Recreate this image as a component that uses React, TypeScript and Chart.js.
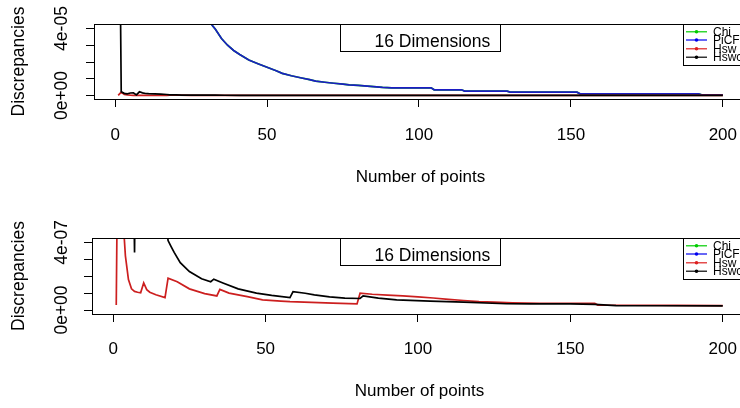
import React, { useEffect, useRef } from "react";
import { Chart, registerables } from "chart.js";

Chart.register(...registerables);

// ---------- data ----------
const SERIES_NAMES = ["Chi", "PiCF", "Hsw", "Hswc"];
const SERIES_COLORS = ["#00c800", "#1c1cc4", "#cc1f1f", "#000000"];
const LEGEND_COLORS = ["#00cd00", "#0000ee", "#dd2020", "#000000"];

const X_TICKS = [0, 50, 100, 150, 200];
const TOP_Y_TICKS = [0, 1e-5, 2e-5, 3e-5, 4e-5];
const TOP_Y_LABELS = ["0e+00", "", "", "", "4e-05"];
const BOTTOM_Y_TICKS = [0, 1e-7, 2e-7, 3e-7, 4e-7];
const BOTTOM_Y_LABELS = ["0e+00", "", "", "", "4e-07"];
const PANEL_TITLE = "16 Dimensions";
const X_TITLE = "Number of points";
const Y_TITLE = "Discrepancies";

// PiCF (blue)
const PICF_N = [27, 29, 31, 32, 33, 35, 37, 39, 41, 44, 47, 50, 53, 55, 58, 61, 64, 66, 69, 72, 75, 77, 80, 83, 86, 88, 91, 93, 104, 105, 114, 115, 129, 130, 152, 153, 192, 193, 200];
const PICF_V = [5.6e-5, 4.95e-5, 4.45e-5, 4.18e-5, 3.95e-5, 3.4e-5, 3.0e-5, 2.69e-5, 2.45e-5, 2.12e-5, 1.9e-5, 1.69e-5, 1.48e-5, 1.32e-5, 1.18e-5, 1.06e-5, 0.95e-5, 0.86e-5, 0.79e-5, 0.73e-5, 0.68e-5, 0.64e-5, 0.6e-5, 0.56e-5, 0.52e-5, 0.49e-5, 0.46e-5, 0.46e-5, 0.46e-5, 0.34e-5, 0.34e-5, 0.26e-5, 0.26e-5, 0.2e-5, 0.2e-5, 0.1e-5, 0.1e-5, 0.04e-5, 0.04e-5];

// Chi (green) - lies under PiCF in the picture
const CHI_N = [27, 29, 31, 32, 33, 35, 37, 39, 41, 44, 47, 50, 53, 55, 58, 61, 64, 66, 69, 72, 75, 77, 80, 83, 86, 88, 91, 93, 104, 105, 114, 115, 129, 130, 152, 153, 192, 193, 200];
const CHI_V = [5.6e-5, 4.95e-5, 4.45e-5, 4.18e-5, 3.95e-5, 3.4e-5, 3.0e-5, 2.69e-5, 2.45e-5, 2.12e-5, 1.9e-5, 1.69e-5, 1.48e-5, 1.32e-5, 1.18e-5, 1.06e-5, 0.95e-5, 0.86e-5, 0.79e-5, 0.73e-5, 0.68e-5, 0.64e-5, 0.6e-5, 0.56e-5, 0.52e-5, 0.49e-5, 0.46e-5, 0.46e-5, 0.46e-5, 0.34e-5, 0.34e-5, 0.26e-5, 0.26e-5, 0.2e-5, 0.2e-5, 0.1e-5, 0.1e-5, 0.04e-5, 0.04e-5];

// Hsw (red)
const HSW_N = [1, 2, 3, 4, 5, 6, 7, 8, 9, 10, 11, 12, 14, 17, 18, 21, 25, 30, 34, 35, 38, 44, 49, 55, 58, 65, 72, 80, 81, 85, 90, 95, 100, 105, 110, 115, 120, 125, 131, 140, 158, 159, 170, 185, 200];
const HSW_V = [3e-8, 2.0e-6, 6.0e-7, 3.2e-7, 1.8e-7, 1.25e-7, 1.1e-7, 1.05e-7, 1.02e-7, 1.6e-7, 1.2e-7, 1.05e-7, 9e-8, 7.3e-8, 1.88e-7, 1.67e-7, 1.25e-7, 9.7e-8, 8.3e-8, 1.22e-7, 1.0e-7, 7.9e-8, 6.0e-8, 5.3e-8, 4.9e-8, 4.5e-8, 4.1e-8, 3.6e-8, 9.9e-8, 9.3e-8, 8.8e-8, 8.3e-8, 7.8e-8, 7.1e-8, 6.3e-8, 5.6e-8, 4.9e-8, 4.6e-8, 4.3e-8, 4.0e-8, 4.0e-8, 2.9e-8, 2.8e-8, 2.7e-8, 2.6e-8];

// Hswc (black)
const HSWC_N = [1, 2, 3, 4, 5, 6, 7, 8, 9, 10, 11, 13, 15, 17, 18, 19, 20, 22, 25, 29, 32, 33, 36, 41, 47, 52, 58, 59, 63, 66, 71, 76, 81, 82, 87, 93, 104, 115, 129, 137, 150, 158, 165, 180, 200];
const HSWC_V = [2e-4, 2.2e-6, 1.3e-6, 1.0e-6, 1.5e-6, 1.6e-6, 3.4e-7, 2.2e-6, 1.6e-6, 1.2e-6, 1.1e-6, 1.0e-6, 8e-7, 6e-7, 4.1e-7, 3.75e-7, 3.4e-7, 2.8e-7, 2.27e-7, 1.85e-7, 1.67e-7, 1.82e-7, 1.6e-7, 1.25e-7, 1.0e-7, 8.6e-8, 7.3e-8, 1.08e-7, 9.9e-8, 8.9e-8, 7.8e-8, 7.0e-8, 6.8e-8, 8.3e-8, 7.0e-8, 6.0e-8, 5.3e-8, 4.7e-8, 3.7e-8, 3.6e-8, 3.6e-8, 3.3e-8, 2.6e-8, 2.5e-8, 2.4e-8];

const SERIES_N = [CHI_N, PICF_N, HSW_N, HSWC_N];
const SERIES_V = [CHI_V, PICF_V, HSW_V, HSWC_V];

// ---------- styling ----------
const FONT = "'Liberation Sans', Arial, Helvetica, sans-serif";
const CANVAS_W = 760;

type PanelSpec = {
  height: number;
  areaBottom: number;
  yMin: number;
  yMax: number;
  yTicks: number[];
  yLabels: string[];
  leftWidth: number;
  labelPad: number;
  titlePad: number;
};

const TOP_PANEL: PanelSpec = {
  height: 214,
  areaBottom: 99,
  yMin: -0.209e-5,
  yMax: 4.269e-5,
  yTicks: TOP_Y_TICKS,
  yLabels: TOP_Y_LABELS,
  leftWidth: 94,
  labelPad: 18,
  titlePad: 26,
};

const BOTTOM_PANEL: PanelSpec = {
  height: 194,
  areaBottom: 100,
  yMin: -0.236e-7,
  yMax: 4.254e-7,
  yTicks: BOTTOM_Y_TICKS,
  yLabels: BOTTOM_Y_LABELS,
  leftWidth: 92,
  labelPad: 17,
  titlePad: 6,
};

const decorPlugin = {
  id: "panelDecor",
  afterDraw(chart: any, _args: any, opts: any) {
    const { ctx, chartArea: a } = chart;
    const ys = chart.scales.y;
    ctx.save();
    ctx.strokeStyle = "#000";
    ctx.lineWidth = 1;
    // plot box
    ctx.strokeRect(a.left + 0.5, a.top + 0.5, a.right - a.left, a.bottom - a.top);

    // rotated y tick labels
    ctx.fillStyle = "#000";
    ctx.font = `17.5px ${FONT}`;
    ctx.textAlign = "center";
    ctx.textBaseline = "alphabetic";
    (opts.yTicks as number[]).forEach((v, i) => {
      const lab = opts.yLabels[i];
      if (!lab) return;
      const py = ys.getPixelForValue(v);
      ctx.save();
      ctx.translate(66.5, py);
      ctx.rotate(-Math.PI / 2);
      ctx.fillText(lab, 0, 0);
      ctx.restore();
    });

    // "16 Dimensions" box
    const bx1 = 340.5, bx2 = 500.5, by1 = a.top + 0.5, by2 = a.top + 27.5;
    ctx.fillStyle = "#fff";
    ctx.fillRect(bx1, by1, bx2 - bx1, by2 - by1);
    ctx.strokeRect(bx1, by1, bx2 - bx1, by2 - by1);
    ctx.fillStyle = "#000";
    ctx.font = `17.5px ${FONT}`;
    ctx.textAlign = "left";
    ctx.textBaseline = "alphabetic";
    ctx.fillText(PANEL_TITLE, 374.5, a.top + 22.5);

    // series legend
    const lx = 683.5;
    const ly1 = a.top + 0.5, ly2 = a.top + 41.5;
    ctx.fillStyle = "#fff";
    ctx.fillRect(lx, ly1, 120, ly2 - ly1);
    ctx.strokeRect(lx, ly1, 120, ly2 - ly1);
    const rows = [7.8, 16, 24.8, 33.2];
    ctx.font = `12px ${FONT}`;
    ctx.textBaseline = "middle";
    SERIES_NAMES.forEach((name, i) => {
      const ry = a.top + rows[i];
      ctx.strokeStyle = LEGEND_COLORS[i];
      ctx.lineWidth = 1.2;
      ctx.beginPath();
      ctx.moveTo(686, ry);
      ctx.lineTo(707, ry);
      ctx.stroke();
      ctx.fillStyle = LEGEND_COLORS[i];
      ctx.beginPath();
      ctx.arc(696.5, ry, 1.8, 0, Math.PI * 2);
      ctx.fill();
      ctx.fillStyle = "#000";
      ctx.fillText(name, 713, ry + 0.5);
    });
    ctx.restore();
  },
};

function buildConfig(p: PanelSpec): any {
  const order = [4, 3, 2, 1];
  const datasets = SERIES_NAMES.map((name, i) => ({
    label: name,
    data: SERIES_N[i].map((n, j) => ({ x: n, y: SERIES_V[i][j] })),
    borderColor: SERIES_COLORS[i],
    backgroundColor: SERIES_COLORS[i],
    borderWidth: 1.7,
    pointRadius: 0,
    fill: false,
    tension: 0,
    clip: 0,
    order: order[i],
  }));
  return {
    type: "line",
    data: { datasets },
    plugins: [decorPlugin],
    options: {
      responsive: false,
      animation: false,
      events: [],
      layout: { padding: { top: 24, right: CANVAS_W - 747, left: 0, bottom: 0 } },
      plugins: {
        legend: { display: false },
        tooltip: { enabled: false },
        title: { display: false },
        panelDecor: { yTicks: p.yTicks, yLabels: p.yLabels },
      },
      scales: {
        x: {
          type: "linear",
          min: 1 - 0.04 * 199,
          max: 200 + 0.04 * 199,
          afterBuildTicks: (s: any) => {
            s.ticks = X_TICKS.map((v) => ({ value: v }));
          },
          afterFit: (s: any) => {
            s.height = p.height - p.areaBottom;
          },
          grid: {
            display: true,
            drawOnChartArea: false,
            drawTicks: true,
            tickLength: 8,
            color: "#000",
            lineWidth: 1,
          },
          border: { display: false },
          ticks: {
            autoSkip: false,
            maxRotation: 0,
            minRotation: 0,
            padding: p.labelPad,
            color: "#000",
            font: { family: FONT, size: 17 },
            callback: (v: any) => String(v),
          },
          title: {
            display: true,
            text: X_TITLE,
            color: "#000",
            font: { family: FONT, size: 17 },
            padding: { top: 0, bottom: p.titlePad },
          },
        },
        y: {
          type: "linear",
          min: p.yMin,
          max: p.yMax,
          afterBuildTicks: (s: any) => {
            s.ticks = p.yTicks.map((v) => ({ value: v }));
          },
          afterFit: (s: any) => {
            s.width = p.leftWidth;
          },
          grid: {
            display: true,
            drawOnChartArea: false,
            drawTicks: true,
            tickLength: 8,
            color: "#000",
            lineWidth: 1,
          },
          border: { display: false },
          ticks: { display: false },
          title: {
            display: true,
            text: Y_TITLE,
            color: "#000",
            font: { family: FONT, size: 17.5 },
            padding: { top: 8.5, bottom: 0 },
          },
        },
      },
    },
  };
}

function Panel({ spec, top }: { spec: PanelSpec; top: number }) {
  const ref = useRef<HTMLCanvasElement | null>(null);
  useEffect(() => {
    if (!ref.current) return;
    const chart = new Chart(ref.current, buildConfig(spec));
    return () => chart.destroy();
  }, [spec]);
  return (
    <canvas
      ref={ref}
      width={CANVAS_W}
      height={spec.height}
      style={{
        position: "absolute",
        left: 0,
        top,
        width: CANVAS_W,
        height: spec.height,
        display: "block",
      }}
    />
  );
}

export default function App() {
  useEffect(() => {
    document.body.style.margin = "0";
    document.body.style.overflow = "hidden";
    document.documentElement.style.overflow = "hidden";
    document.body.style.background = "#fff";
  }, []);
  return (
    <div
      style={{
        position: "relative",
        width: 740,
        height: 408,
        overflow: "hidden",
        background: "#fff",
      }}
    >
      <Panel spec={TOP_PANEL} top={0} />
      <Panel spec={BOTTOM_PANEL} top={214} />
    </div>
  );
}
